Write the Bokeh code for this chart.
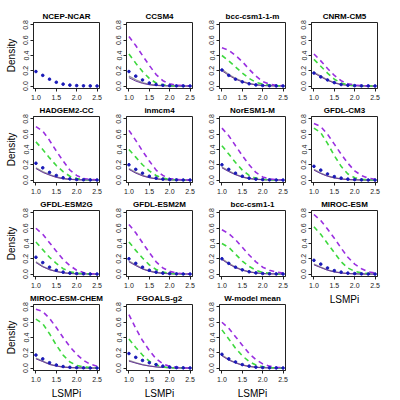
from bokeh.plotting import figure
from bokeh.layouts import row, column
from bokeh.models import Range1d, FixedTicker, PrintfTickFormatter
from bokeh.embed import file_html
from bokeh.resources import INLINE

# x positions of the density estimates (LSMPi)
X = [1.0, 1.167, 1.333, 1.5, 1.667, 1.833, 2.0, 2.167, 2.333, 2.5]

TITLES = ["NCEP-NCAR", "CCSM4", "bcc-csm1-1-m", "CNRM-CM5",
          "HADGEM2-CC", "inmcm4", "NorESM1-M", "GFDL-CM3",
          "GFDL-ESM2G", "GFDL-ESM2M", "bcc-csm1-1", "MIROC-ESM",
          "MIROC-ESM-CHEM", "FGOALS-g2", "W-model mean"]

X_TICKS = [1.0, 1.5, 2.0, 2.5]
Y_TICKS = [0.0, 0.2, 0.4, 0.6, 0.8]

# blue dotted: reanalysis / historical points
BLUE_DOTS = [
    [0.19, 0.14, 0.09, 0.05, 0.025, 0.012, 0.006, 0.003, 0.002, 0.001],
    [0.19, 0.13, 0.08, 0.04, 0.02, 0.01, 0.005, 0.003, 0.002, 0.001],
    [0.21, 0.14, 0.09, 0.055, 0.03, 0.015, 0.007, 0.004, 0.002, 0.001],
    [0.17, 0.12, 0.08, 0.045, 0.02, 0.01, 0.005, 0.003, 0.002, 0.001],
    [0.22, 0.16, 0.10, 0.06, 0.03, 0.015, 0.007, 0.004, 0.002, 0.001],
    [0.20, 0.14, 0.09, 0.05, 0.025, 0.012, 0.006, 0.003, 0.001, 0.0],
    [0.20, 0.14, 0.09, 0.05, 0.025, 0.012, 0.006, 0.003, 0.001, 0.0],
    [0.18, 0.13, 0.08, 0.045, 0.025, 0.012, 0.006, 0.003, 0.001, 0.0],
    [0.22, 0.15, 0.09, 0.05, 0.025, 0.012, 0.006, 0.003, 0.001, 0.0],
    [0.20, 0.14, 0.09, 0.05, 0.025, 0.012, 0.006, 0.003, 0.001, 0.0],
    [0.20, 0.14, 0.09, 0.055, 0.03, 0.015, 0.007, 0.004, 0.002, 0.001],
    [0.18, 0.13, 0.08, 0.045, 0.025, 0.012, 0.006, 0.003, 0.001, 0.0],
    [0.17, 0.12, 0.07, 0.04, 0.02, 0.01, 0.005, 0.003, 0.001, 0.0],
    [0.19, 0.14, 0.10, 0.07, 0.045, 0.025, 0.012, 0.006, 0.003, 0.001],
    [0.18, 0.12, 0.08, 0.045, 0.025, 0.012, 0.006, 0.003, 0.002, 0.001],
]

# grey solid: model historical density
GREY_SOLID = [
    [],
    [0.13, 0.08, 0.045, 0.022, 0.01, 0.005, 0.002, 0.001, 0.0, 0.0],
    [0.22, 0.15, 0.10, 0.06, 0.035, 0.018, 0.009, 0.004, 0.002, 0.001],
    [0.18, 0.13, 0.08, 0.045, 0.022, 0.01, 0.005, 0.002, 0.001, 0.0],
    [0.16, 0.11, 0.07, 0.04, 0.02, 0.01, 0.005, 0.002, 0.001, 0.0],
    [0.15, 0.10, 0.06, 0.035, 0.018, 0.008, 0.004, 0.002, 0.001, 0.0],
    [0.17, 0.12, 0.075, 0.04, 0.02, 0.01, 0.005, 0.002, 0.001, 0.0],
    [0.14, 0.09, 0.055, 0.03, 0.015, 0.007, 0.003, 0.001, 0.0, 0.0],
    [0.16, 0.10, 0.06, 0.035, 0.018, 0.009, 0.004, 0.002, 0.001, 0.0],
    [0.17, 0.12, 0.07, 0.04, 0.02, 0.01, 0.005, 0.002, 0.001, 0.0],
    [0.20, 0.14, 0.09, 0.055, 0.03, 0.016, 0.008, 0.004, 0.002, 0.001],
    [0.13, 0.09, 0.055, 0.03, 0.015, 0.007, 0.003, 0.001, 0.0, 0.0],
    [0.13, 0.09, 0.05, 0.028, 0.014, 0.007, 0.003, 0.001, 0.0, 0.0],
    [0.10, 0.07, 0.045, 0.028, 0.016, 0.009, 0.005, 0.002, 0.001, 0.0],
    [0.17, 0.11, 0.07, 0.04, 0.022, 0.011, 0.005, 0.002, 0.001, 0.0],
]

# thin purple solid: second historical density
PURPLE_SOLID = [
    [],
    [0.11, 0.065, 0.035, 0.017, 0.008, 0.004, 0.002, 0.001, 0.0, 0.0],
    [0.20, 0.14, 0.09, 0.055, 0.03, 0.016, 0.008, 0.004, 0.002, 0.001],
    [0.17, 0.12, 0.075, 0.04, 0.02, 0.01, 0.005, 0.002, 0.001, 0.0],
    [0.15, 0.10, 0.065, 0.035, 0.018, 0.009, 0.004, 0.002, 0.001, 0.0],
    [0.14, 0.09, 0.055, 0.03, 0.015, 0.007, 0.003, 0.001, 0.0, 0.0],
    [0.16, 0.11, 0.07, 0.04, 0.02, 0.01, 0.005, 0.002, 0.001, 0.0],
    [0.13, 0.085, 0.05, 0.028, 0.014, 0.007, 0.003, 0.001, 0.0, 0.0],
    [0.15, 0.095, 0.057, 0.033, 0.017, 0.008, 0.004, 0.002, 0.001, 0.0],
    [0.16, 0.11, 0.065, 0.037, 0.019, 0.009, 0.004, 0.002, 0.001, 0.0],
    [0.19, 0.13, 0.085, 0.05, 0.028, 0.015, 0.007, 0.003, 0.001, 0.0],
    [0.12, 0.085, 0.05, 0.028, 0.014, 0.007, 0.003, 0.001, 0.0, 0.0],
    [0.12, 0.085, 0.048, 0.026, 0.013, 0.006, 0.003, 0.001, 0.0, 0.0],
    [0.09, 0.065, 0.042, 0.026, 0.015, 0.008, 0.004, 0.002, 0.001, 0.0],
    [0.16, 0.105, 0.067, 0.038, 0.021, 0.01, 0.005, 0.002, 0.001, 0.0],
]

# green dashed: moderate scenario
GREEN_DASH = [
    [],
    [0.42, 0.30, 0.19, 0.10, 0.04, 0.015, 0.005, 0.002, 0.001, 0.0],
    [0.40, 0.33, 0.25, 0.17, 0.10, 0.05, 0.025, 0.012, 0.006, 0.003],
    [0.35, 0.26, 0.17, 0.09, 0.04, 0.015, 0.005, 0.002, 0.001, 0.0],
    [0.50, 0.40, 0.29, 0.19, 0.11, 0.05, 0.02, 0.008, 0.003, 0.001],
    [0.40, 0.30, 0.20, 0.12, 0.06, 0.025, 0.01, 0.004, 0.001, 0.0],
    [0.45, 0.34, 0.23, 0.13, 0.06, 0.025, 0.01, 0.004, 0.001, 0.0],
    [0.68, 0.62, 0.48, 0.32, 0.18, 0.08, 0.03, 0.01, 0.004, 0.001],
    [0.42, 0.32, 0.22, 0.14, 0.07, 0.03, 0.012, 0.005, 0.002, 0.001],
    [0.42, 0.31, 0.21, 0.12, 0.06, 0.025, 0.01, 0.004, 0.001, 0.0],
    [0.40, 0.35, 0.26, 0.17, 0.10, 0.05, 0.022, 0.01, 0.004, 0.002],
    [0.62, 0.52, 0.40, 0.28, 0.16, 0.08, 0.035, 0.015, 0.006, 0.003],
    [0.64, 0.58, 0.45, 0.30, 0.17, 0.08, 0.035, 0.015, 0.006, 0.003],
    [0.38, 0.27, 0.17, 0.09, 0.04, 0.015, 0.005, 0.002, 0.001, 0.0],
    [0.50, 0.38, 0.26, 0.16, 0.085, 0.04, 0.017, 0.007, 0.003, 0.001],
]

# purple dashed: high scenario
PURPLE_DASH = [
    [],
    [0.65, 0.53, 0.40, 0.27, 0.15, 0.07, 0.03, 0.01, 0.005, 0.003],
    [0.50, 0.47, 0.40, 0.32, 0.22, 0.13, 0.06, 0.025, 0.01, 0.005],
    [0.42, 0.33, 0.23, 0.14, 0.07, 0.03, 0.012, 0.005, 0.002, 0.001],
    [0.70, 0.64, 0.52, 0.38, 0.25, 0.13, 0.06, 0.02, 0.008, 0.003],
    [0.65, 0.52, 0.38, 0.25, 0.13, 0.06, 0.02, 0.008, 0.003, 0.001],
    [0.68, 0.58, 0.45, 0.32, 0.20, 0.10, 0.04, 0.015, 0.005, 0.002],
    [0.74, 0.70, 0.60, 0.47, 0.34, 0.22, 0.12, 0.06, 0.025, 0.01],
    [0.60, 0.52, 0.41, 0.30, 0.19, 0.11, 0.05, 0.02, 0.008, 0.003],
    [0.65, 0.54, 0.41, 0.28, 0.16, 0.08, 0.035, 0.013, 0.005, 0.002],
    [0.58, 0.53, 0.45, 0.35, 0.25, 0.16, 0.09, 0.05, 0.025, 0.012],
    [0.78, 0.70, 0.59, 0.47, 0.34, 0.22, 0.13, 0.07, 0.03, 0.015],
    [0.77, 0.74, 0.65, 0.53, 0.40, 0.28, 0.18, 0.10, 0.05, 0.025],
    [0.70, 0.52, 0.36, 0.23, 0.12, 0.055, 0.022, 0.008, 0.003, 0.001],
    [0.60, 0.52, 0.41, 0.30, 0.19, 0.11, 0.055, 0.025, 0.01, 0.005],
]

FONT = "Liberation Sans"
BORDER_LEFT = [33, 22, 22, 21]
BORDER_TOP = [22, 14, 13, 12]


def make_panel(i):
    r, c = divmod(i, 4)
    has_xlabel = (r == 3) or (r == 2 and c == 3)
    p = figure(frame_width=66, frame_height=66,
               x_range=Range1d(0.94, 2.56), y_range=Range1d(-0.032, 0.832),
               output_backend="svg", toolbar_location=None,
               min_border_left=BORDER_LEFT[c], min_border_right=5,
               min_border_top=BORDER_TOP[r],
               min_border_bottom=26 if has_xlabel else 14,
               title=TITLES[i])
    p.background_fill_color = "white"
    p.border_fill_color = "white"
    p.outline_line_color = "#222222"
    p.outline_line_width = 1
    p.xgrid.visible = False
    p.ygrid.visible = False

    p.title.align = "center"
    p.title.text_font = FONT
    p.title.text_font_size = "8px"
    p.title.text_font_style = "bold"
    p.title.text_color = "black"
    p.title.standoff = 3
    p.title.offset = 0

    p.xaxis.ticker = FixedTicker(ticks=X_TICKS)
    p.yaxis.ticker = FixedTicker(ticks=Y_TICKS)
    p.xaxis.formatter = PrintfTickFormatter(format="%.1f")
    p.yaxis.formatter = PrintfTickFormatter(format="%.1f")
    p.yaxis.major_label_orientation = "parallel"
    p.xaxis.major_label_standoff = 3
    p.yaxis.major_label_standoff = 2
    for ax in (p.xaxis[0], p.yaxis[0]):
        ax.minor_tick_line_color = None
        ax.major_tick_in = 0
        ax.major_tick_out = 3
        ax.major_tick_line_color = "#222222"
        ax.axis_line_color = "#222222"
        ax.major_label_text_font = FONT
        ax.major_label_text_font_size = "7px"
        ax.major_label_text_color = "#222222"
        ax.axis_label_text_font = FONT
        ax.axis_label_text_font_size = "10px"
        ax.axis_label_text_font_style = "normal"
        ax.axis_label_text_color = "black"
    p.xaxis.axis_label_standoff = 3
    p.yaxis.axis_label_standoff = 4
    if c == 0:
        p.yaxis.axis_label = "Density"
    if has_xlabel:
        p.xaxis.axis_label = "LSMPi"

    if GREY_SOLID[i]:
        p.line(X, GREY_SOLID[i], line_color="#9a9a9a", line_width=1.4)
    if PURPLE_SOLID[i]:
        p.line(X, PURPLE_SOLID[i], line_color="#6a3a9c", line_width=1)
    if GREEN_DASH[i]:
        p.line(X, GREEN_DASH[i], line_color="#3ed83e", line_width=1.6,
               line_dash="5 4")
    if PURPLE_DASH[i]:
        p.line(X, PURPLE_DASH[i], line_color="#9a30e0", line_width=1.6,
               line_dash="5 4")
    p.scatter(X, BLUE_DOTS[i], size=2.6, color="#1a1ab8")
    return p


figs = [make_panel(i) for i in range(len(TITLES))]
cols = [column(*[figs[i] for i in range(c, len(figs), 4)], spacing=0)
        for c in range(4)]
layout = row(*cols, spacing=0)

open("out.html", "w").write(file_html(layout, INLINE, "LSMPi densities"))
